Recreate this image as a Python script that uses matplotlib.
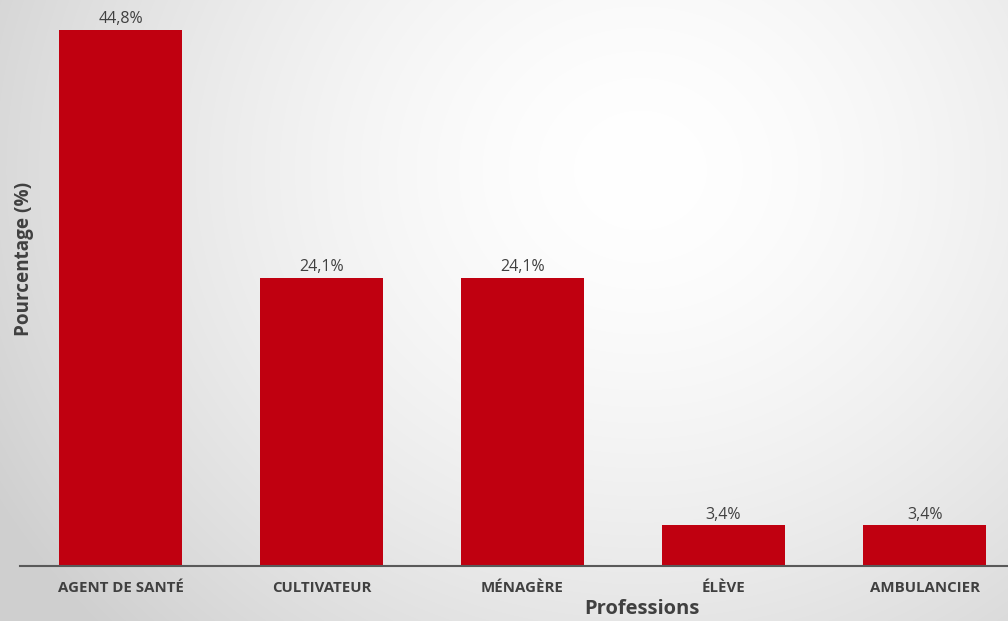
import numpy as np
import matplotlib
matplotlib.use("Agg")
import matplotlib.pyplot as plt

categories = ["AGENT DE SANTÉ", "CULTIVATEUR", "MÉNAGÈRE", "ÉLÈVE", "AMBULANCIER"]
values = [44.8, 24.1, 24.1, 3.4, 3.4]
value_labels = ["44,8%", "24,1%", "24,1%", "3,4%", "3,4%"]

plt.rcParams['font.family'] = ['Open Sans', 'DejaVu Sans']

W, H = 1008, 621
fig = plt.figure(figsize=(W / 100, H / 100), dpi=100)

# radial gradient background
bg = fig.add_axes([0, 0, 1, 1], zorder=-10)
yy, xx = np.mgrid[0:H, 0:W]
cx, cy = 640, 170
r = np.sqrt(((xx - cx) / 620.0) ** 2 + ((yy - cy) / 560.0) ** 2)
shade = 1.0 - 0.14 * np.clip(r, 0, 1.2) ** 1.6
img = np.dstack([shade, shade, shade])
bg.imshow(img, aspect='auto', extent=[0, W, H, 0])
bg.set_axis_off()

ax = fig.add_axes([20 / W, 55 / H, 1 - 20 / W, 1 - 55 / H])
ax.patch.set_alpha(0)
x = np.arange(len(categories))
bars = ax.bar(x, values, width=0.61, color='#C00010', zorder=2)
ax.set_xlim(-0.5, 4.415)
ax.set_ylim(0, 566 / 11.96)

for xi, v, lab in zip(x, values, value_labels):
    ax.annotate(lab, (xi, v), xytext=(0, 2), textcoords='offset points',
                ha='center', va='bottom', fontsize=11.5, color='#404040')

ax.set_xticks(x)
ax.set_xticklabels(categories, fontsize=10.8, fontweight='bold', color='#404040')
ax.tick_params(axis='x', length=0, pad=11)
ax.set_yticks([])
for s in ['top', 'right', 'left']:
    ax.spines[s].set_visible(False)
ax.spines['bottom'].set_color('#595959')
ax.spines['bottom'].set_linewidth(1.5)

fig.text(642 / W, 1 - 609 / H, "Professions", ha='center', va='center',
         fontsize=14.5, fontweight='bold', color='#404040')
fig.text(24 / W, 1 - 259 / H, "Pourcentage (%)", ha='center', va='center',
         rotation=90, fontsize=13.6, fontweight='bold', color='#404040')

fig.savefig("out.png", dpi=100)
